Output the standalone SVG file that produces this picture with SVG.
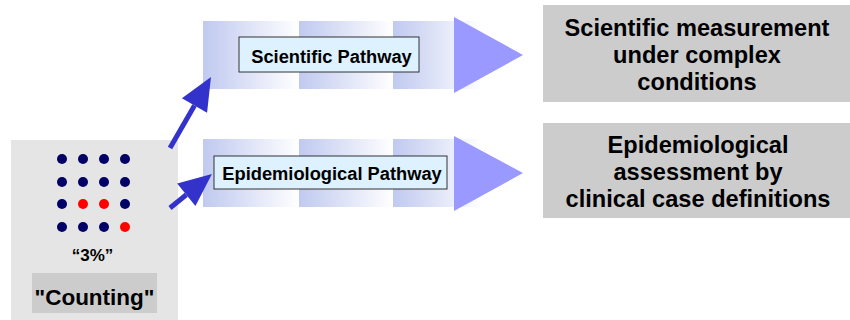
<svg xmlns="http://www.w3.org/2000/svg" width="850" height="320" viewBox="0 0 850 320">
<style>
  text { font-family: "Liberation Sans", Arial, sans-serif; font-weight: bold; fill: #000; }
  .seg1 { fill: url(#g1); }
  .tri { fill: #9999ff; }
  .label { fill: #ddf1ff; stroke: #333; stroke-width: 1; }
  .res { fill: #cccccc; }
  .dot { fill: #000066; }
  .red { fill: #ff0000; }
  .conn { stroke: #3333cc; stroke-width: 5; fill: none; marker-end: url(#ah); }
  .big { font-size: 23.6px; text-anchor: middle; }
  .mid { font-size: 18.3px; text-anchor: middle; }
</style>
<defs>
  <linearGradient id="g1" x1="0" y1="0" x2="1" y2="0">
    <stop offset="0" stop-color="#c0c9f0"/>
    <stop offset="1" stop-color="#ffffff"/>
  </linearGradient>
  <marker id="ah" markerUnits="userSpaceOnUse" markerWidth="40" markerHeight="40" refX="0" refY="0" orient="auto" viewBox="-2 -20 40 40" overflow="visible">
    <path d="M0,-14.5 L33,0 L0,14.5 Z" fill="#3333cc"/>
  </marker>
</defs>

<g id="counting">
  <rect x="11" y="140" width="167" height="185" fill="#e5e5e5"/>
  <g id="dots">
    <circle class="dot" cx="62" cy="159" r="5"/><circle class="dot" cx="83" cy="159" r="5"/><circle class="dot" cx="104" cy="159" r="5"/><circle class="dot" cx="125" cy="159" r="5"/>
    <circle class="dot" cx="62" cy="182" r="5"/><circle class="dot" cx="83" cy="182" r="5"/><circle class="dot" cx="104" cy="182" r="5"/><circle class="dot" cx="125" cy="182" r="5"/>
    <circle class="dot" cx="62" cy="204" r="5"/><circle class="red" cx="83" cy="204" r="5"/><circle class="red" cx="104" cy="204" r="5"/><circle class="dot" cx="125" cy="204" r="5"/>
    <circle class="dot" cx="62" cy="227" r="5"/><circle class="dot" cx="83" cy="227" r="5"/><circle class="dot" cx="104" cy="227" r="5"/><circle class="red" cx="125" cy="227" r="5"/>
  </g>
  <text x="92.5" y="261" style="font-size:17px" text-anchor="middle">“3%”</text>
  <rect x="32" y="273" width="125" height="40" fill="#cccccc"/>
  <text x="94.5" y="305" style="font-size:22.5px" text-anchor="middle">"Counting"</text>
</g>

<g id="scientific-pathway">
  <rect class="seg1" x="203" y="21" width="96" height="68"/>
  <rect class="seg1" x="299" y="21" width="94" height="68"/>
  <rect class="seg1" x="393" y="21" width="89" height="68"/>
  <polygon class="tri" points="454,17 454,93 523,55"/>
  <rect class="label" x="239" y="37" width="180" height="35"/>
  <text class="mid" x="331.5" y="63">Scientific Pathway</text>
</g>

<g id="epidemiological-pathway">
  <rect class="seg1" x="203" y="139" width="96" height="68"/>
  <rect class="seg1" x="299" y="139" width="94" height="68"/>
  <rect class="seg1" x="393" y="139" width="89" height="68"/>
  <polygon class="tri" points="454,136 454,211 523,173"/>
  <rect class="label" x="214" y="156" width="233" height="33"/>
  <text class="mid" x="332" y="180">Epidemiological Pathway</text>
</g>

<g id="scientific-result">
  <rect class="res" x="543" y="5" width="307" height="97"/>
  <text class="big" x="697" y="36">Scientific measurement</text>
  <text class="big" x="697" y="63">under complex</text>
  <text class="big" x="697" y="90">conditions</text>
</g>

<g id="epidemiological-result">
  <rect class="res" x="543" y="123" width="307" height="95"/>
  <text class="big" x="698" y="153">Epidemiological</text>
  <text class="big" x="698" y="180">assessment by</text>
  <text class="big" x="698" y="207">clinical case definitions</text>
</g>

<g id="connectors">
  <path class="conn" d="M170,148 L194.5,105.5"/>
  <path class="conn" d="M170,208 L186.3,194.8"/>
</g>
</svg>
